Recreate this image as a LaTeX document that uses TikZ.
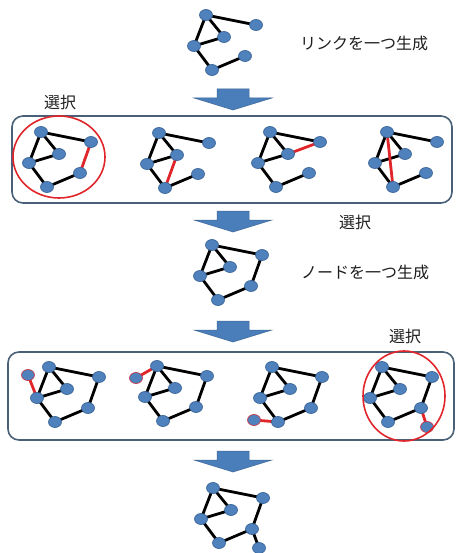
\documentclass[tikz,border=0pt]{standalone}
\usepackage{fontspec}
\newfontfamily\jp{Noto Sans CJK JP}
\usetikzlibrary{shapes.geometric}
\definecolor{nodefill}{HTML}{4F81BD}
\definecolor{nodeborder}{HTML}{3A6597}
\definecolor{redc}{HTML}{E0262B}
\definecolor{panelc}{HTML}{4A6078}
\definecolor{arrowc}{HTML}{4A7EBB}
\definecolor{txt}{HTML}{1E1E1E}
\pgfdeclarelayer{edges}
\pgfsetlayers{edges,main}
\tikzset{
  gn/.style={ellipse, draw=nodeborder, fill=nodefill, line width=0.7pt, minimum width=13pt, minimum height=11pt, inner sep=0pt},
  newn/.style={gn, draw=redc!80!nodefill},
  ge/.style={line width=2.8pt, black},
  re/.style={line width=2.8pt, redc},
  panel/.style={draw=panelc, line width=1.6pt, rounded corners=11pt},
  selc/.style={draw=redc, line width=1.6pt},
  lbl/.style={text=txt, font=\jp\fontsize{16}{16}\selectfont, inner sep=0pt},
  arr/.style={fill=arrowc, draw=arrowc!80!black, line width=0.5pt},
  g/.pic={
    \node[gn] (-a) at (0,0) {};
    \node[gn] (-b) at (50,10) {};
    \node[gn] (-c) at (18,22) {};
    \node[gn] (-d) at (-12,31) {};
    \node[gn] (-e) at (6,55) {};
    \node[gn] (-f) at (39,41) {};
    \begin{pgfonlayer}{edges}
      \draw[ge] (-a.center) -- (-b.center) (-a.center) -- (-c.center) (-a.center) -- (-d.center)
        (-d.center) -- (-c.center) (-d.center) -- (-e.center) (-e.center) -- (-f.center);
    \end{pgfonlayer}
  }
}
\newcommand\blockarrow[1]{%
  \path[arr] (217,#1) -- (249,#1) -- (249,#1+9) -- (272,#1+9) -- (233,#1+21) -- (194,#1+9) -- (217,#1+9) -- cycle;}
\begin{document}
\begin{tikzpicture}[x=1pt,y=-1pt]
\useasboundingbox (0,0) rectangle (458,553);
% top
\pic (t) at (206,15) {g};
\node[lbl] (l1) at (364,43) {リンクを一つ生成};
\blockarrow{89}
% panel 1
\draw[panel] (12,116) rectangle (452,203);
\node[lbl] (s1) at (60,102) {選択};
\pic (p1) at (41,132) {g};
\pic (p2) at (159,133) {g};
\pic (p3) at (270,132) {g};
\pic (p4) at (387,132) {g};
\begin{pgfonlayer}{edges}
  \draw[re] (p1-b.center) -- (p1-f.center);
  \draw[re] (p2-c.center) -- (p2-e.center);
  \draw[re] (p3-c.center) -- (p3-b.center);
  \draw[re] (p4-a.center) -- (p4-e.center);
\end{pgfonlayer}
\draw[selc] (59,157) ellipse [x radius=46, y radius=41];
\blockarrow{211}
\node[lbl] (s2) at (355,222) {選択};
% middle
\pic (m) at (212,245) {g};
\begin{pgfonlayer}{edges}
  \draw[ge] (m-b.center) -- (m-f.center);
\end{pgfonlayer}
\node[lbl] (l2) at (365,272) {ノードを一つ生成};
\blockarrow{321}
\node[lbl] (s3) at (405,336) {選択};
% panel 2
\draw[panel] (8,352) rectangle (454,440);
\pic (q1) at (49,367) {g};
\pic (q2) at (157,366) {g};
\pic (q3) at (272,367) {g};
\pic (q4) at (382,367) {g};
\node[newn] (q1-n) at (28,375) {};
\node[newn] (q2-n) at (136,378) {};
\node[newn] (q3-n) at (254,420) {};
\node[newn] (q4-n) at (427,427) {};
\begin{pgfonlayer}{edges}
  \draw[ge] (q1-b.center) -- (q1-f.center) (q2-b.center) -- (q2-f.center)
    (q3-b.center) -- (q3-f.center) (q4-b.center) -- (q4-f.center);
  \draw[re] (q1-n.center) -- (q1-d.center);
  \draw[re] (q2-n.center) -- (q2-a.center);
  \draw[re] (q3-n.center) -- (q3-e.center);
  \draw[re] (q4-f.center) -- (q4-n.center);
\end{pgfonlayer}
\draw[selc] (404,396) ellipse [x radius=41, y radius=45];
\blockarrow{451}
% bottom
\pic (b) at (213,488) {g};
\node[gn] (b-n) at (259,548) {};
\begin{pgfonlayer}{edges}
  \draw[ge] (b-b.center) -- (b-f.center) (b-f.center) -- (b-n.center);
\end{pgfonlayer}
\end{tikzpicture}
\end{document}
